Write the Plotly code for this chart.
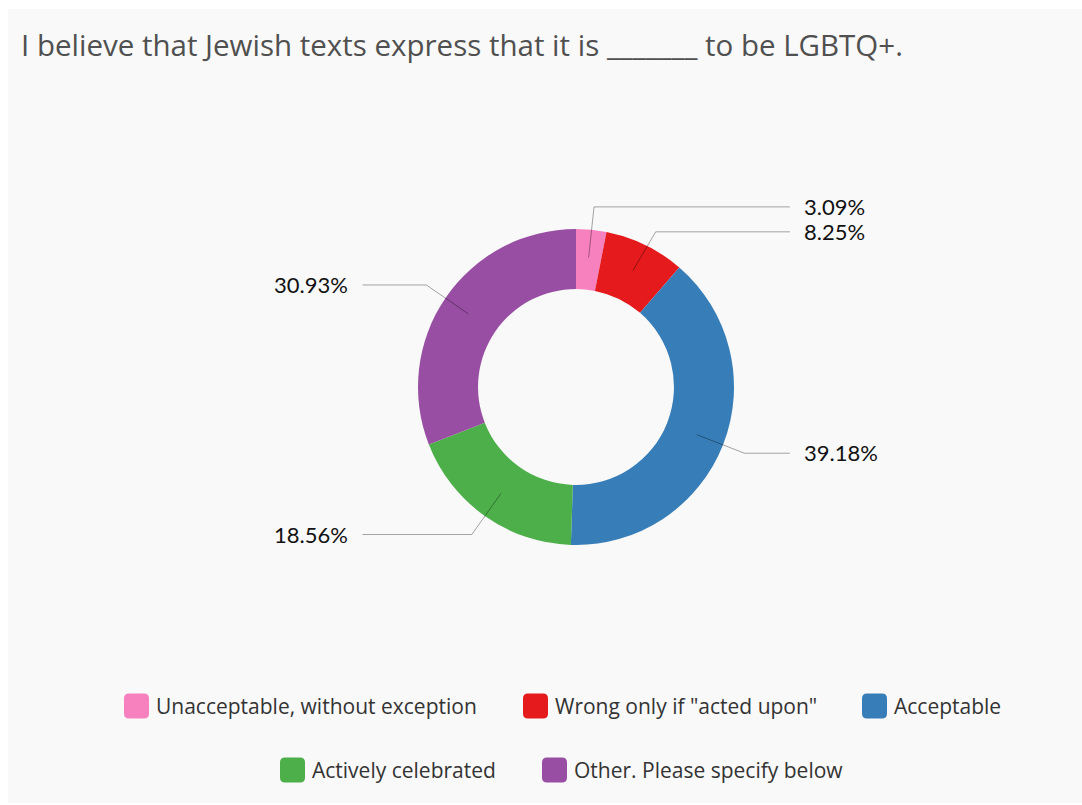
import math
import plotly.graph_objects as go

# Survey responses (counts) and their display labels
categories = [
    "Unacceptable, without exception",
    'Wrong only if "acted upon"',
    "Acceptable",
    "Actively celebrated",
    "Other. Please specify below",
]
counts = [3, 8, 38, 18, 30]
colors = ["#f781bf", "#e41a1c", "#377eb8", "#4daf4a", "#984ea3"]
title_text = "I believe that Jewish texts express that it is _______ to be LGBTQ+."

W, H = 1082, 805
CX, CY = 576, 387          # donut centre (px)
R_OUT = 158                # outer radius (px)
HOLE = 0.62
R_LINE_IN = 130            # leader line start radius
R_ELBOW = 181              # leader line bend radius
H_END = 214                # horizontal end offset from centre
TXT_OFF = 226              # label offset from centre
MIN_GAP = 25

LABEL_FONT = dict(family="Lato, Open Sans, sans-serif", size=22, color="#111111")
LEGEND_FONT = dict(family="Open Sans, sans-serif", size=21, color="#333333")


def px(x):
    return x / W


def py(y):
    return 1 - y / H


total = sum(counts)
pcts = [c / total * 100 for c in counts]

fig = go.Figure()
fig.add_trace(go.Pie(
    values=counts,
    labels=categories,
    marker=dict(colors=colors, line=dict(width=0)),
    hole=HOLE,
    sort=False,
    direction="clockwise",
    rotation=0,
    textinfo="none",
    hoverinfo="label+percent",
    showlegend=False,
    domain=dict(x=[px(CX - R_OUT), px(CX + R_OUT)],
                y=[py(CY + R_OUT), py(CY - R_OUT)]),
))

# leader lines and percentage labels
items = []
cum = 0
for p in pcts:
    mid = (cum + p / 2) / 100 * 2 * math.pi
    cum += p
    dx, dy = math.sin(mid), -math.cos(mid)
    items.append(dict(
        p=p, dx=dx, dy=dy,
        right=dx >= 0,
        x0=CX + R_LINE_IN * dx, y0=CY + R_LINE_IN * dy,
        ex=CX + R_ELBOW * dx, ey=CY + R_ELBOW * dy,
    ))

for side in (True, False):
    grp = sorted([it for it in items if it["right"] == side], key=lambda it: it["ey"])
    for a, b in zip(grp, grp[1:]):
        if b["ey"] - a["ey"] < MIN_GAP:
            b["ey"] = a["ey"] + MIN_GAP

shapes = [dict(type="rect", xref="paper", yref="paper",
               x0=px(8), x1=1.0, y0=py(803), y1=py(9),
               fillcolor="#f9f9f9", line=dict(width=0), layer="below")]
annotations = []

for it in items:
    sgn = 1 if it["right"] else -1
    hx = CX + sgn * H_END
    path = "M {:.3f},{:.3f} L {:.3f},{:.3f} L {:.3f},{:.3f}".format(
        px(it["x0"]), py(it["y0"]), px(it["ex"]), py(it["ey"]), px(hx), py(it["ey"]))
    shapes.append(dict(type="path", xref="paper", yref="paper", path=path,
                       line=dict(color="rgba(0,0,0,0.35)", width=1), layer="above"))
    annotations.append(dict(
        xref="paper", yref="paper", x=px(CX + sgn * TXT_OFF), y=py(it["ey"]),
        text="{:.2f}%".format(it["p"]), showarrow=False,
        xanchor="left" if it["right"] else "right", yanchor="middle",
        font=LABEL_FONT,
    ))

# legend: rounded swatches with labels, two centred rows
legend_rows = [
    (706, [(0, 124), (1, 523), (2, 862)]),
    (770, [(3, 280), (4, 542)]),
]
SW = 25
RAD = 5
for ry, row in legend_rows:
    for idx, lx in row:
        x0, x1 = lx, lx + SW
        y0, y1 = ry - SW / 2, ry + SW / 2
        path = (
            f"M {px(x0 + RAD)},{py(y0)} L {px(x1 - RAD)},{py(y0)} "
            f"Q {px(x1)},{py(y0)} {px(x1)},{py(y0 + RAD)} "
            f"L {px(x1)},{py(y1 - RAD)} Q {px(x1)},{py(y1)} {px(x1 - RAD)},{py(y1)} "
            f"L {px(x0 + RAD)},{py(y1)} Q {px(x0)},{py(y1)} {px(x0)},{py(y1 - RAD)} "
            f"L {px(x0)},{py(y0 + RAD)} Q {px(x0)},{py(y0)} {px(x0 + RAD)},{py(y0)} Z"
        )
        shapes.append(dict(type="path", xref="paper", yref="paper", path=path,
                           fillcolor=colors[idx], line=dict(width=0), layer="above"))
        annotations.append(dict(
            xref="paper", yref="paper", x=px(x1 + 5), y=py(ry),
            text=categories[idx], showarrow=False,
            xanchor="left", yanchor="middle", font=LEGEND_FONT,
        ))

annotations.append(dict(
    xref="paper", yref="paper", x=px(19), y=py(45),
    text=title_text, showarrow=False, xanchor="left", yanchor="middle",
    font=dict(family="Open Sans, sans-serif", size=29.5, color="#505050"),
))

fig.update_layout(
    width=W, height=H,
    margin=dict(l=0, r=0, t=0, b=0),
    paper_bgcolor="#ffffff",
    plot_bgcolor="#ffffff",
    shapes=shapes,
    annotations=annotations,
    showlegend=False,
)

fig.write_html("out.html")
